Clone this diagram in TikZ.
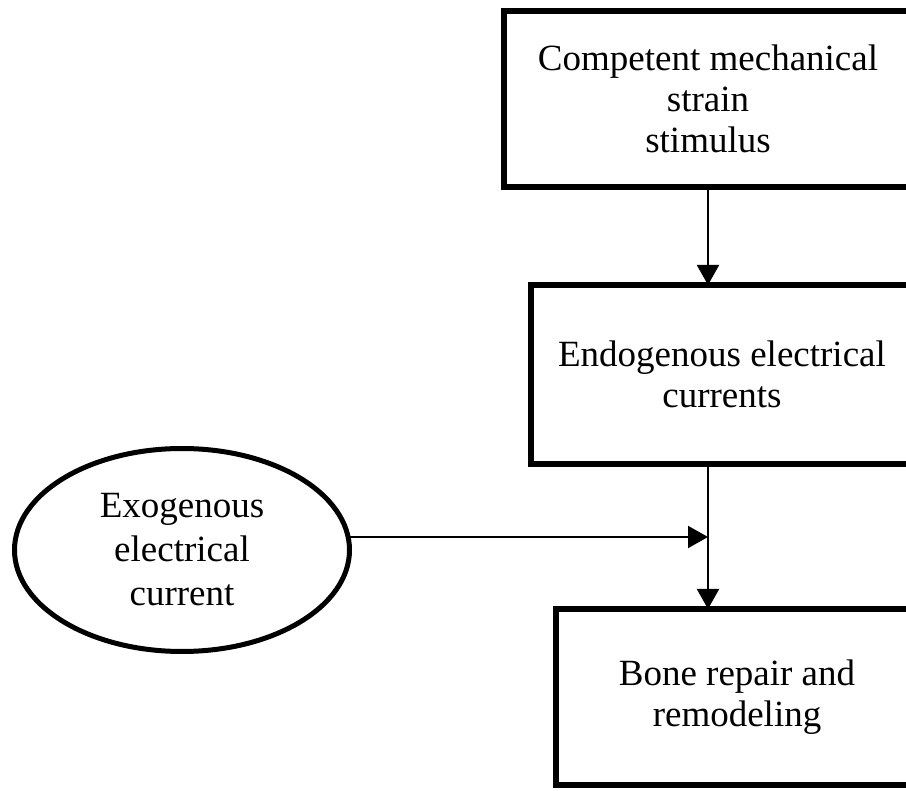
\documentclass[tikz,border=0pt]{standalone}
\usepackage{fontspec}
\setmainfont{Liberation Serif}
\usetikzlibrary{arrows.meta,shapes.geometric}
\begin{document}
\begin{tikzpicture}[x=1pt,y=-1pt,
  box/.style={draw,line width=6pt,rectangle,inner sep=0pt,outer sep=0pt,align=center,
    font=\fontsize{37}{41}\selectfont},
  oval/.style={draw,line width=5pt,ellipse,inner sep=0pt,outer sep=0pt,align=center,
    font=\fontsize{37}{44}\selectfont},
  conn/.style={line width=2pt,-{Triangle[width=22pt,length=20pt]}}]
\useasboundingbox (0,0) rectangle (906,791);
\clip (0,0) rectangle (906,791);
\node[box,minimum width=408pt,minimum height=176pt] (b1) at (708,99)
  {Competent mechanical\\strain\\stimulus};
\node[box,minimum width=382pt,minimum height=179pt] (b2) at (722,374.5)
  {Endogenous electrical\\currents};
\node[box,minimum width=362pt,minimum height=176pt] (b3) at (737,697)
  {Bone repair and\\remodeling};
\node[oval,minimum width=335pt,minimum height=203pt] (ell) at (182,550)
  {Exogenous\\electrical\\current};
\coordinate (j) at (708,537);
\draw[conn] (b1.south) -- (b2.north -| b1.south);
\draw[line width=2pt] (b2.south -| b1.south) -- (j);
\draw[conn] (j) -- (b3.north -| b1.south);
\draw[conn] (ell.east |- j) -- (j);
\end{tikzpicture}
\end{document}
